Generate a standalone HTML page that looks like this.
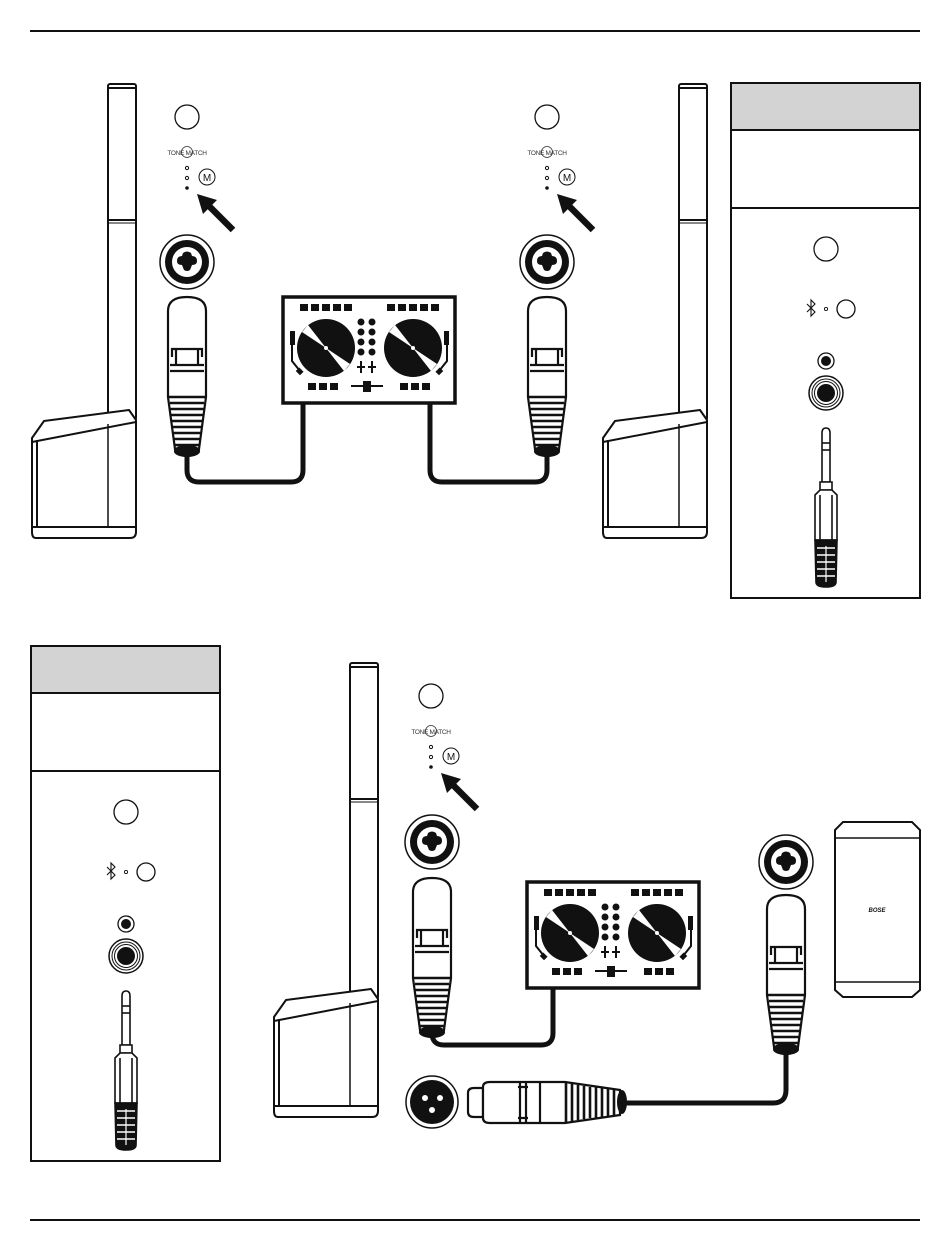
<!DOCTYPE html>
<html><head><meta charset="utf-8"><style>
html,body{margin:0;padding:0;background:#fff;}
svg{display:block;}
text{font-family:"Liberation Sans",sans-serif;}
</style></head><body>
<svg width="950" height="1248" viewBox="0 0 950 1248" xmlns="http://www.w3.org/2000/svg">
<defs>
<g id="tower" fill="none" stroke="#111" stroke-width="2" stroke-linejoin="round">
  <rect x="0" y="0" width="28" height="336" rx="2" fill="#fff"/>
  <line x1="0" y1="4" x2="28" y2="4"/>
  <line x1="0" y1="136" x2="28" y2="136"/>
  <line x1="0" y1="139" x2="28" y2="139" stroke-width="1"/>
  <path d="M-76,354 L-64,337 L21,326 L28,336 L28,448 Q28,454 22,454 L-72,454 Q-76,454 -76,448 Z" fill="#fff"/>
  <line x1="-76" y1="358" x2="28" y2="338"/>
  <line x1="-71" y1="356" x2="-71" y2="443"/>
  <line x1="-76" y1="443" x2="28" y2="443"/>
  <line x1="0" y1="340" x2="0" y2="443" stroke-width="1.5"/>
</g>
<g id="combo">
  <circle r="27" fill="#fff" stroke="#111" stroke-width="1.5"/>
  <circle r="22" fill="#111"/>
  <circle r="15" fill="#fff"/>
  <path d="M-10,-1 Q-10,-6 -5,-6 L-4,-9 Q0,-12 4,-9 L5,-6 Q10,-6 10,-1 Q10,3 5,3 L3,8 Q0,10 -3,8 L-5,3 Q-10,3 -10,-1Z" fill="#111"/>
</g>
<g id="xlrm" stroke="#111" stroke-width="2.2" fill="#fff">
  <path d="M0,14 Q0,0 19,0 Q38,0 38,14 L38,100 L31,152 L7,152 L0,100 Z"/>
  <path d="M4,60 L4,52 L34,52 L34,60 M8,52 L8,68 M30,52 L30,68 M2,68 L36,68 M2,74 L36,74" fill="none"/>
  <path d="M1,100 L37,100 M2,106 L36,106 M2,112 L36,112 M3,118 L35,118 M3,124 L35,124 M4,130 L34,130 M5,136 L33,136 M6,142 L32,142 M7,148 L31,148" fill="none" stroke-width="2.6"/>
  <ellipse cx="19" cy="154" rx="12" ry="5" fill="#111"/>
</g>
<g id="mixer">
  <rect x="0" y="0" width="172" height="106" fill="#fff" stroke="#111" stroke-width="3.5"/>
  <g fill="#111">
    <rect x="17" y="7" width="8" height="7"/><rect x="28" y="7" width="8" height="7"/><rect x="39" y="7" width="8" height="7"/><rect x="50" y="7" width="8" height="7"/><rect x="61" y="7" width="8" height="7"/>
    <rect x="104" y="7" width="8" height="7"/><rect x="115" y="7" width="8" height="7"/><rect x="126" y="7" width="8" height="7"/><rect x="137" y="7" width="8" height="7"/><rect x="148" y="7" width="8" height="7"/>
    <circle cx="43" cy="51" r="29"/><circle cx="130" cy="51" r="29"/>
    <circle cx="78" cy="25" r="3.5"/><circle cx="89" cy="25" r="3.5"/>
    <circle cx="78" cy="35" r="3.5"/><circle cx="89" cy="35" r="3.5"/>
    <circle cx="78" cy="45" r="3.5"/><circle cx="89" cy="45" r="3.5"/>
    <circle cx="78" cy="55" r="3.5"/><circle cx="89" cy="55" r="3.5"/>
    <rect x="25" y="86" width="8" height="7"/><rect x="36" y="86" width="8" height="7"/><rect x="47" y="86" width="8" height="7"/>
    <rect x="117" y="86" width="8" height="7"/><rect x="128" y="86" width="8" height="7"/><rect x="139" y="86" width="8" height="7"/>
    <rect x="80" y="84" width="8" height="11"/>
    <rect x="7" y="34" width="5" height="14"/><rect x="161" y="34" width="5" height="14"/>
  </g>
  <path d="M43,51 L19,35 L25,28 Z M43,51 L67,67 L61,74 Z" fill="#fff"/>
  <path d="M130,51 L106,35 L112,28 Z M130,51 L154,67 L148,74 Z" fill="#fff"/>
  <circle cx="43" cy="51" r="2" fill="#fff"/><circle cx="130" cy="51" r="2" fill="#fff"/>
  <g stroke="#111" stroke-width="2" fill="none">
    <line x1="68" y1="89" x2="100" y2="89"/>
    <path d="M78,64 L78,76 M74,70 L82,70 M89,64 L89,76 M85,70 L93,70"/>
    <path d="M9,48 L9,64 L17,74"/><path d="M164,48 L164,64 L156,74"/>
  </g>
  <rect x="14" y="72" width="6" height="5" fill="#111" transform="rotate(45 17 74)"/>
  <rect x="153" y="72" width="6" height="5" fill="#111" transform="rotate(-45 156 74)"/>
</g>
<g id="tm">
  <circle cx="0" cy="0" r="12" fill="none" stroke="#111" stroke-width="1.3"/>
  <text x="0" y="38" font-size="6.5" text-anchor="middle" fill="#333" letter-spacing="-0.3">TONE MATCH</text>
  <circle cx="0" cy="35" r="5.5" fill="none" stroke="#333" stroke-width="0.8"/>
  <circle cx="0" cy="51" r="1.6" fill="none" stroke="#111" stroke-width="1"/>
  <circle cx="0" cy="61" r="1.6" fill="none" stroke="#111" stroke-width="1"/>
  <circle cx="0" cy="71" r="1.8" fill="#111"/>
  <circle cx="20" cy="60" r="8" fill="none" stroke="#111" stroke-width="1"/>
  <text x="20" y="64" font-size="10" text-anchor="middle" fill="#111">M</text>
  <line x1="20" y1="87" x2="46" y2="113" stroke="#111" stroke-width="6.5"/>
  <path d="M10,77 L30,83 L16,97 Z" fill="#111"/>
</g>
<g id="panel">
  <rect x="731" y="83" width="189" height="515" fill="#fff" stroke="#111" stroke-width="2"/>
  <rect x="732" y="84" width="187" height="46" fill="#d3d3d3"/>
  <line x1="731" y1="130" x2="920" y2="130" stroke="#111" stroke-width="2"/>
  <line x1="731" y1="208" x2="920" y2="208" stroke="#111" stroke-width="2"/>
  <circle cx="826" cy="249" r="12" fill="none" stroke="#111" stroke-width="1.3"/>
  <path d="M807,304 L815,312 L811,316 L811,300 L815,304 L807,312" fill="none" stroke="#111" stroke-width="1.1"/>
  <circle cx="826" cy="309" r="1.6" fill="none" stroke="#111" stroke-width="0.9"/>
  <circle cx="846" cy="309" r="9" fill="none" stroke="#111" stroke-width="1.3"/>
  <circle cx="826" cy="361" r="8" fill="none" stroke="#111" stroke-width="1.3"/>
  <circle cx="826" cy="361" r="5" fill="#111"/>
  <circle cx="826" cy="393" r="17" fill="none" stroke="#111" stroke-width="1.5"/>
  <circle cx="826" cy="393" r="14" fill="none" stroke="#111" stroke-width="1"/>
  <circle cx="826" cy="393" r="11.5" fill="none" stroke="#111" stroke-width="1"/>
  <circle cx="826" cy="393" r="9" fill="#111"/>
  <g stroke="#111" stroke-width="1.6" fill="#fff">
    <path d="M822,433 Q822,428 826,428 Q830,428 830,433 L830,482 L822,482 Z"/>
    <line x1="822" y1="443" x2="830" y2="443"/><line x1="822" y1="450" x2="830" y2="450"/>
    <path d="M820,482 L832,482 L832,490 L820,490 Z"/>
    <path d="M815,495 L820,490 L832,490 L837,495 L837,540 L815,540 Z"/>
    <line x1="820" y1="495" x2="820" y2="540"/><line x1="832" y1="495" x2="832" y2="540"/>
    <path d="M815,540 L837,540 L836,582 Q836,587 826,587 Q816,587 816,582 Z" fill="#111"/>
  </g>
  <path d="M817,548 L835,548 M817,555 L835,555 M817,562 L835,562 M817,569 L835,569 M817,576 L835,576" stroke="#fff" stroke-width="1.6"/>
  <line x1="826" y1="546" x2="826" y2="582" stroke="#fff" stroke-width="1.2"/>
</g>
</defs>

<line x1="30" y1="31" x2="920" y2="31" stroke="#111" stroke-width="2"/>
<line x1="30" y1="1220" x2="920" y2="1220" stroke="#111" stroke-width="2"/>

<use href="#tower" transform="translate(108,84)"/>
<use href="#tower" transform="translate(679,84)"/>

<g fill="none" stroke="#111" stroke-width="5" stroke-linejoin="round">
  <path d="M187,452 L187,470 Q187,482 199,482 L291,482 Q303,482 303,470 L303,403"/>
  <path d="M547,452 L547,470 Q547,482 535,482 L442,482 Q430,482 430,470 L430,403"/>
  <path d="M432,1032 L432,1033 Q432,1045 444,1045 L541,1045 Q553,1045 553,1033 L553,985"/>
  <path d="M786,1050 L786,1090 Q786,1103 773,1103 L620,1103"/>
</g>

<use href="#tm" transform="translate(187,117)"/>
<use href="#tm" transform="translate(547,117)"/>
<use href="#combo" transform="translate(187,262)"/>
<use href="#combo" transform="translate(547,262)"/>
<use href="#xlrm" transform="translate(168,297)"/>
<use href="#xlrm" transform="translate(528,297)"/>
<use href="#mixer" transform="translate(283,297)"/>

<use href="#panel"/>
<use href="#panel" transform="translate(-700,563)"/>

<use href="#tower" transform="translate(350,663)"/>
<use href="#tm" transform="translate(431,696)"/>
<use href="#combo" transform="translate(432,842)"/>
<use href="#xlrm" transform="translate(413,878)"/>
<use href="#mixer" transform="translate(527,882)"/>
<use href="#combo" transform="translate(786,862)"/>
<use href="#xlrm" transform="translate(767,895)"/>

<circle cx="432" cy="1102" r="26" fill="#fff" stroke="#111" stroke-width="1.5"/>
<circle cx="432" cy="1102" r="22" fill="#111"/>
<circle cx="425" cy="1098" r="3" fill="#fff"/><circle cx="440" cy="1098" r="3" fill="#fff"/><circle cx="432" cy="1110" r="3" fill="#fff"/>
<g stroke="#111" stroke-width="2.2" fill="#fff">
  <path d="M468,1093 Q468,1088 474,1088 L483,1088 L483,1117 L474,1117 Q468,1117 468,1112 Z"/>
  <path d="M483,1087 Q483,1082 490,1082 L565,1082 L620,1090 L620,1115 L565,1123 L490,1123 Q483,1123 483,1118 Z"/>
  <path d="M520,1082 L520,1123 M526,1082 L526,1123 M518,1087 L528,1087 M518,1118 L528,1118 M540,1082 L540,1123" fill="none"/>
  <path d="M566,1083 L566,1122 M572,1084 L572,1121 M578,1085 L578,1120 M584,1086 L584,1119 M590,1087 L590,1118 M596,1087 L596,1118 M602,1088 L602,1117 M608,1089 L608,1116 M614,1090 L614,1115" fill="none" stroke-width="2.6"/>
</g>
<ellipse cx="622" cy="1102" rx="5" ry="12" fill="#111"/>

<path d="M843,822 L912,822 L920,830 L920,990 L912,997 L843,997 L835,990 L835,830 Z" fill="#fff" stroke="#111" stroke-width="2"/>
<line x1="835" y1="838" x2="920" y2="838" stroke="#111" stroke-width="1.5"/>
<line x1="835" y1="982" x2="920" y2="982" stroke="#111" stroke-width="1.5"/>
<text x="877" y="912" font-size="6" font-weight="bold" font-style="italic" text-anchor="middle" fill="#111">BOSE</text>
</svg>
</body></html>
